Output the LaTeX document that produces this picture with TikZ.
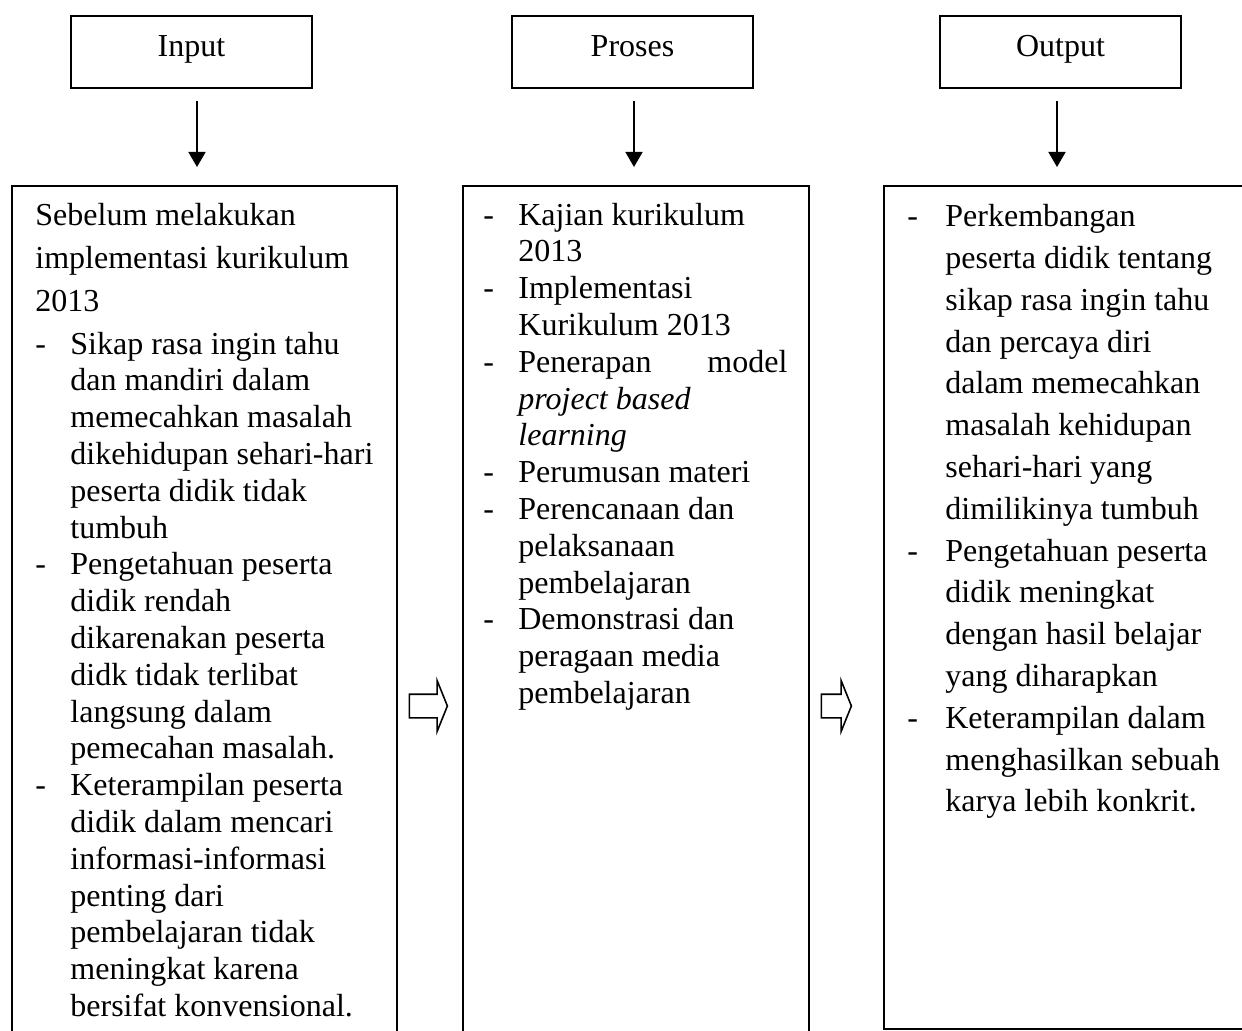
\documentclass[tikz,border=0pt]{standalone}
\usepackage{fontspec}
\setmainfont{Liberation Serif}
\usetikzlibrary{arrows.meta,shapes.arrows,positioning}

\begin{document}
\begin{tikzpicture}[
      x=0.5pt, y=-0.5pt,
      heading/.style = {shape=rectangle, draw, line width=.8pt, minimum width=120.5pt, minimum height=36pt,
        inner sep=0pt, text height=20.5pt, text depth=15.5pt, font=\fontsize{16}{18.5}\selectfont},
      panel/.style = {shape=rectangle, draw, line width=.8pt, anchor=north west, inner sep=0pt},
      listing/.style = {inner sep=0pt, align=left, font=\fontsize{16}{18.4}\selectfont},
      down/.style = {-{Triangle[length=7.5pt,width=8.5pt]}, line width=.8pt, shorten <=6pt, shorten >=9pt},
      flow/.style = {shape=single arrow, draw, line width=.8pt, inner sep=0pt, minimum height=19pt,
        text height=5.5pt, text depth=5.5pt, single arrow head extend=6.75pt, single arrow tip angle=136}
    ]
      \useasboundingbox (0,0) rectangle (1242,1031);

      % headings
      \node[heading] (inhead) at (191.5,52) {Input};
      \node[heading] (prhead) at (632.5,52) {Proses};
      \node[heading] (outhead) at (1060.5,52) {Output};

      % panels
      \node[panel, minimum width=192.5pt, minimum height=430pt] (inpanel) at (11,185) {};
      \node[panel, minimum width=173pt, minimum height=430pt] (prpanel) at (462,185) {};
      \node[panel, minimum width=200pt, minimum height=421.5pt] (outpanel) at (883,185) {};

      \draw[down] ([xshift=2.75pt]inhead.south) -- ([xshift=2.75pt]inhead.south |- inpanel.north);
      \draw[down] ([xshift=0.75pt]prhead.south) -- ([xshift=0.75pt]prhead.south |- prpanel.north);
      \draw[down] ([xshift=-1.75pt]outhead.south) -- ([xshift=-1.75pt]outhead.south |- outpanel.north);

      % between the panels
      \node[flow] (flow1) at (426,706) {};
      \node[flow, minimum height=15pt] (flow2) at (834,706) {};

      \node[listing, below right=7pt and 12pt of inpanel.north west] (intext) {%
        \begin{tabular}{@{}p{17.5pt}@{}l@{}}
        \multicolumn{2}{@{}l@{}}{Sebelum melakukan}\\[3.1pt]
        \multicolumn{2}{@{}l@{}}{implementasi kurikulum}\\[3.1pt]
        \multicolumn{2}{@{}l@{}}{2013}\\[3.1pt]
        - & Sikap rasa ingin tahu\\
          & dan mandiri dalam\\
          & memecahkan masalah\\
          & dikehidupan sehari-hari\\
          & peserta didik tidak\\
          & tumbuh\\
        - & Pengetahuan peserta\\
          & didik rendah\\
          & dikarenakan peserta\\
          & didk tidak terlibat\\
          & langsung dalam\\
          & pemecahan masalah.\\
        - & Keterampilan peserta\\
          & didik dalam mencari\\
          & informasi-informasi\\
          & penting dari\\
          & pembelajaran tidak\\
          & meningkat karena\\
          & bersifat konvensional.
        \end{tabular}};

      \node[listing, below right=7pt and 10.5pt of prpanel.north west] (prtext) {%
        \begin{tabular}{@{}p{17.5pt}@{}l@{}}
        - & Kajian kurikulum\\
          & 2013\\
        - & Implementasi\\
          & Kurikulum 2013\\
        - & \hbox to 134.5pt{Penerapan\hfill model}\\
          & \textit{project based}\\
          & \textit{learning}\\
        - & Perumusan materi\\
        - & Perencanaan dan\\
          & pelaksanaan\\
          & pembelajaran\\
        - & Demonstrasi dan\\
          & peragaan media\\
          & pembelajaran
        \end{tabular}};

      \node[listing, font=\fontsize{16}{20.9}\selectfont, below right=6pt and 12pt of outpanel.north west] (outtext) {%
        \begin{tabular}{@{}p{19pt}@{}l@{}}
        - & Perkembangan\\
          & peserta didik tentang\\
          & sikap rasa ingin tahu\\
          & dan percaya diri\\
          & dalam memecahkan\\
          & masalah kehidupan\\
          & sehari-hari yang\\
          & dimilikinya tumbuh\\
        - & Pengetahuan peserta\\
          & didik meningkat\\
          & dengan hasil belajar\\
          & yang diharapkan\\
        - & Keterampilan dalam\\
          & menghasilkan sebuah\\
          & karya lebih konkrit.
        \end{tabular}};
    \end{tikzpicture}
\end{document}
